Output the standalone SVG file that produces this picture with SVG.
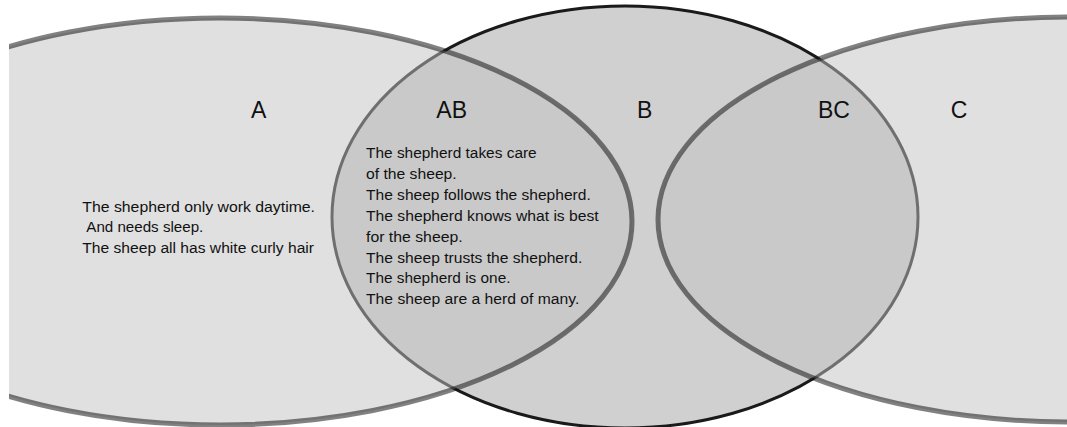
<svg xmlns="http://www.w3.org/2000/svg" width="1067" height="427" viewBox="0 0 1067 427">
  <defs>
    <clipPath id="frame">
      <rect x="9" y="0" width="1058" height="427"/>
    </clipPath>
    <style>
      .side { fill: #c2c2c2; fill-opacity: 0.51; stroke: #111111; stroke-opacity: 0.53; stroke-width: 5; }
      .mid { fill: #d0d0d0; stroke: #1a1a1a; stroke-width: 3; }
      .lbl { font-family: "Liberation Sans", Arial, sans-serif; font-size: 23px; fill: #111111; text-anchor: middle; }
      .body { font-family: "Liberation Sans", Arial, sans-serif; font-size: 15.5px; fill: #111111; }
    </style>
  </defs>
  <rect x="0" y="0" width="1067" height="427" fill="#ffffff"/>
  <g clip-path="url(#frame)">
    <g id="set-B">
      <ellipse class="mid" cx="625" cy="217" rx="293" ry="211"/>
    </g>
    <g id="set-A">
      <ellipse class="side" cx="220" cy="221.5" rx="412" ry="203.5"/>
    </g>
    <g id="set-C">
      <ellipse class="side" cx="1070" cy="219.5" rx="412" ry="202.5"/>
    </g>
  </g>
  <g id="connectors"/>
  <g id="labels">
    <text class="lbl" x="258.7" y="118.3">A</text>
    <text class="lbl" x="451.7" y="118.3">AB</text>
    <text class="lbl" x="644.7" y="118.3">B</text>
    <text class="lbl" x="834" y="118.3">BC</text>
    <text class="lbl" x="959" y="118.3">C</text>
  </g>
  <g id="text-A">
    <text class="body" x="82.3" y="211.7" textLength="232.7" lengthAdjust="spacingAndGlyphs">The shepherd only work daytime.</text>
    <text class="body" x="86.3" y="232.4" textLength="117" lengthAdjust="spacingAndGlyphs">And needs sleep.</text>
    <text class="body" x="82.3" y="253.2" textLength="231.7" lengthAdjust="spacingAndGlyphs">The sheep all has white curly hair</text>
  </g>
  <g id="text-AB">
    <text class="body" x="366" y="158.3" textLength="170.7" lengthAdjust="spacingAndGlyphs">The shepherd takes care</text>
    <text class="body" x="366" y="179.2" textLength="90.7" lengthAdjust="spacingAndGlyphs">of the sheep.</text>
    <text class="body" x="366" y="200" textLength="224.7" lengthAdjust="spacingAndGlyphs">The sheep follows the shepherd.</text>
    <text class="body" x="366" y="220.9" textLength="232.7" lengthAdjust="spacingAndGlyphs">The shepherd knows what is best</text>
    <text class="body" x="366" y="241.7" textLength="96.7" lengthAdjust="spacingAndGlyphs">for the sheep.</text>
    <text class="body" x="366" y="262.6" textLength="216.3" lengthAdjust="spacingAndGlyphs">The sheep trusts the shepherd.</text>
    <text class="body" x="366" y="283.4" textLength="144.5" lengthAdjust="spacingAndGlyphs">The shepherd is one.</text>
    <text class="body" x="366" y="304.3" textLength="213.3" lengthAdjust="spacingAndGlyphs">The sheep are a herd of many.</text>
  </g>
</svg>
